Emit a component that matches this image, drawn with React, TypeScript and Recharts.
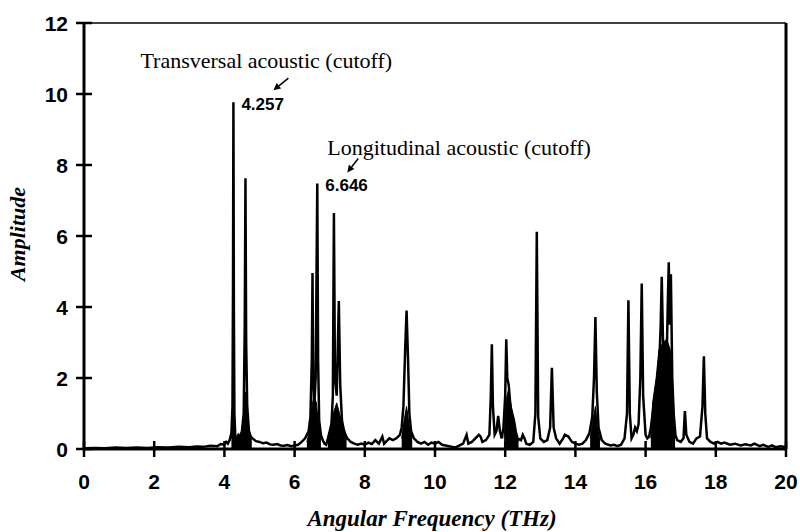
import React from 'react';
import { ComposedChart, Line, Area, XAxis, YAxis, ReferenceLine, ReferenceDot } from 'recharts';

// [frequency (THz), amplitude], split by band
const band0to4: [number, number][] = [
  [0, 0.02], [0.3, 0.03], [0.6, 0.02], [0.9, 0.04], [1.2, 0.03], [1.5, 0.04], [1.8, 0.03],
  [2.1, 0.05], [2.4, 0.04], [2.7, 0.06], [3.0, 0.05], [3.2, 0.07], [3.4, 0.06], [3.6, 0.09],
  [3.8, 0.08], [3.9, 0.14], [4.0, 0.12], [4.05, 0.2], [4.1, 0.15], [4.15, 0.25],
];
const band4to6: [number, number][] = [
  [4.2, 0.45], [4.23, 1.2], [4.245, 4.5], [4.257, 9.77], [4.27, 4.0], [4.285, 1.0], [4.31, 0.35],
  [4.35, 0.3], [4.4, 0.4], [4.45, 0.35], [4.5, 0.5], [4.55, 1.0], [4.58, 3.5], [4.6, 7.63],
  [4.62, 3.0], [4.65, 1.2], [4.7, 0.5], [4.75, 0.35], [4.8, 0.3], [4.9, 0.22], [5.0, 0.2],
  [5.1, 0.16], [5.2, 0.18], [5.3, 0.13], [5.4, 0.12], [5.5, 0.14], [5.6, 0.1], [5.7, 0.09],
  [5.8, 0.11], [5.9, 0.08],
];
const band6to8: [number, number][] = [
  [6.0, 0.1], [6.1, 0.12], [6.2, 0.2], [6.3, 0.3], [6.4, 0.5], [6.45, 0.9], [6.49, 2.5],
  [6.51, 4.96], [6.53, 2.0], [6.56, 1.2], [6.6, 2.0], [6.646, 7.48], [6.67, 2.5], [6.7, 0.8],
  [6.75, 0.4], [6.8, 0.25], [6.85, 0.15], [6.9, 0.12], [6.95, 0.3], [7.0, 0.5], [7.05, 0.7],
  [7.09, 1.5], [7.12, 6.65], [7.15, 2.0], [7.2, 1.5], [7.26, 4.17], [7.3, 1.8], [7.35, 0.8],
  [7.4, 0.55], [7.45, 0.4], [7.5, 0.3], [7.6, 0.2], [7.7, 0.15], [7.8, 0.12], [7.9, 0.15],
];
const band8to12: [number, number][] = [
  [8.0, 0.12], [8.1, 0.18], [8.2, 0.14], [8.3, 0.25], [8.4, 0.15], [8.5, 0.35], [8.55, 0.15],
  [8.6, 0.2], [8.7, 0.3], [8.8, 0.25], [8.9, 0.3], [9.0, 0.4], [9.05, 0.6], [9.1, 1.2],
  [9.15, 2.8], [9.19, 3.9], [9.23, 2.6], [9.27, 1.0], [9.32, 0.5], [9.4, 0.3], [9.5, 0.2],
  [9.6, 0.15], [9.7, 0.2], [9.8, 0.12], [9.9, 0.18], [10.0, 0.15], [10.1, 0.2], [10.2, 0.12],
  [10.3, 0.1], [10.4, 0.08], [10.5, 0.06], [10.6, 0.05], [10.7, 0.1], [10.8, 0.15], [10.9, 0.4],
  [10.95, 0.15], [11.05, 0.2], [11.15, 0.3], [11.25, 0.4], [11.3, 0.35], [11.35, 0.2],
  [11.45, 0.25], [11.55, 0.4], [11.59, 1.5], [11.62, 2.95], [11.65, 1.2], [11.7, 0.4],
  [11.75, 0.5], [11.8, 0.93], [11.85, 0.5], [11.9, 0.3], [11.95, 0.6],
];
const band12to16: [number, number][] = [
  [12.0, 1.5], [12.03, 3.09], [12.06, 2.0], [12.1, 1.8], [12.15, 1.2], [12.2, 1.0], [12.25, 0.8],
  [12.3, 0.5], [12.35, 0.3], [12.45, 0.25], [12.5, 0.4], [12.55, 0.3], [12.6, 0.15], [12.7, 0.12],
  [12.8, 0.2], [12.86, 1.0], [12.9, 6.12], [12.94, 0.9], [13.0, 0.3], [13.1, 0.2], [13.2, 0.25],
  [13.28, 0.6], [13.33, 2.29], [13.38, 0.6], [13.45, 0.3], [13.55, 0.15], [13.65, 0.3],
  [13.7, 0.4], [13.8, 0.35], [13.9, 0.2], [14.0, 0.15], [14.1, 0.12], [14.2, 0.15], [14.3, 0.25],
  [14.4, 0.45], [14.48, 0.9], [14.53, 2.0], [14.57, 3.72], [14.61, 1.6], [14.66, 0.6],
  [14.75, 0.25], [14.85, 0.15], [15.0, 0.1], [15.1, 0.12], [15.2, 0.08], [15.3, 0.12],
  [15.4, 0.3], [15.47, 1.0], [15.51, 4.19], [15.55, 1.0], [15.6, 0.3], [15.65, 0.4], [15.7, 0.6],
  [15.75, 0.5], [15.8, 0.7], [15.85, 2.0], [15.89, 4.66], [15.93, 1.5],
];
const band16to20: [number, number][] = [
  [16.0, 0.4], [16.05, 0.3], [16.1, 0.35], [16.15, 0.6], [16.2, 1.0], [16.25, 1.4], [16.3, 1.2],
  [16.35, 2.0], [16.4, 2.7], [16.43, 3.5], [16.46, 4.85], [16.5, 2.8], [16.55, 3.0], [16.6, 2.5],
  [16.63, 4.0], [16.66, 5.26], [16.69, 3.5], [16.72, 4.92], [16.76, 2.0], [16.8, 1.0],
  [16.85, 0.4], [16.9, 0.25], [17.0, 0.2], [17.08, 0.3], [17.12, 1.07], [17.16, 0.4],
  [17.25, 0.2], [17.35, 0.15], [17.45, 0.3], [17.55, 0.35], [17.62, 1.2], [17.66, 2.61],
  [17.7, 1.0], [17.75, 0.3], [17.85, 0.2], [17.95, 0.15], [18.05, 0.2], [18.15, 0.15],
  [18.25, 0.18], [18.4, 0.12], [18.55, 0.15], [18.7, 0.1], [18.85, 0.13], [19.0, 0.1],
  [19.1, 0.15], [19.25, 0.08], [19.35, 0.12], [19.5, 0.06], [19.6, 0.1], [19.7, 0.05],
  [19.85, 0.08], [20.0, 0.05],
];

// envelopes of the densely oscillating (solid black) regions at the peak bases
const denseTransverse: [number, number][] = [
  [4.2, 0.3], [4.24, 0.6], [4.257, 0.9], [4.28, 0.5], [4.32, 0.3], [4.45, 0.35], [4.52, 0.6],
  [4.56, 1.2], [4.6, 1.6], [4.64, 1.0], [4.7, 0.55], [4.78, 0.3],
];
const denseLongitudinal: [number, number][] = [
  [6.35, 0.2], [6.42, 0.5], [6.48, 1.1], [6.55, 1.5], [6.62, 1.3], [6.68, 0.7], [6.75, 0.25],
];
const dense7: [number, number][] = [
  [6.95, 0.2], [7.02, 0.6], [7.1, 1.0], [7.2, 1.3], [7.28, 1.0], [7.38, 0.6], [7.48, 0.25],
];
const dense9: [number, number][] = [[9.05, 0.3], [9.12, 0.8], [9.19, 1.2], [9.26, 0.7], [9.35, 0.3]];
const dense12: [number, number][] = [
  [11.97, 0.3], [12.03, 1.4], [12.1, 1.7], [12.2, 1.0], [12.3, 0.5], [12.38, 0.2],
];
const dense14: [number, number][] = [[14.42, 0.3], [14.5, 0.8], [14.57, 1.2], [14.63, 0.6], [14.7, 0.25]];
const dense16: [number, number][] = [
  [16.15, 0.3], [16.2, 1.3], [16.3, 2.0], [16.38, 2.8], [16.5, 3.0], [16.6, 3.1], [16.7, 2.8],
  [16.78, 1.6], [16.84, 0.3],
];

const xTicks = [0, 2, 4, 6, 8, 10, 12, 14, 16, 18, 20];
const yTicks = [0, 2, 4, 6, 8, 10, 12];

const transverseCutoff = { x: 4.257, y: 9.77, label: '4.257', name: 'Transversal acoustic (cutoff)' };
const longitudinalCutoff = { x: 6.646, y: 7.48, label: '6.646', name: 'Longitudinal acoustic (cutoff)' };

const toRows = (pts: [number, number][]) => pts.map(([x, y]) => ({ x, y }));
const data = toRows([...band0to4, ...band4to6, ...band6to8, ...band8to12, ...band12to16, ...band16to20]);
const denseRegions = [denseTransverse, denseLongitudinal, dense7, dense9, dense12, dense14, dense16].map(toRows);

const TICK_FONT = "'Liberation Sans', Arial, sans-serif";
const SERIF = "'Liberation Serif', 'Times New Roman', serif";

const XTick = (props: any) => {
  const { x, y, payload } = props;
  return (
    <g>
      <line x1={x} x2={x} y1={y - 8} y2={y + 8} stroke="#000" strokeWidth={2.5} />
      <text x={x} y={y + 40} textAnchor="middle" fontFamily={TICK_FONT} fontWeight="bold" fontSize={21} fill="#000">
        {payload.value}
      </text>
    </g>
  );
};

const YTick = (props: any) => {
  const { x, y, payload } = props;
  return (
    <g>
      <line x1={x - 8} x2={x + 8} y1={y} y2={y} stroke="#000" strokeWidth={2.5} />
      <text x={x - 16} y={y + 7.5} textAnchor="end" fontFamily={TICK_FONT} fontWeight="bold" fontSize={21} fill="#000">
        {payload.value}
      </text>
    </g>
  );
};

const makeAnnotation = (
  value: string,
  name: string,
  nameDx: number,
  nameDy: number,
  arrowFrom: [number, number],
  arrowTo: [number, number]
) => (props: any) => {
  const vb = props.viewBox || {};
  const cx = (vb.x || 0) + (vb.width || 0) / 2;
  const cy = (vb.y || 0) + (vb.height || 0) / 2;
  const fx = cx + arrowFrom[0];
  const fy = cy + arrowFrom[1];
  const tx = cx + arrowTo[0];
  const ty = cy + arrowTo[1];
  const ang = Math.atan2(ty - fy, tx - fx);
  const hl = 7;
  const hw = 3.5;
  const bx = tx - hl * Math.cos(ang);
  const by = ty - hl * Math.sin(ang);
  const px = -Math.sin(ang) * hw;
  const py = Math.cos(ang) * hw;
  return (
    <g>
      <text x={cx + 8} y={cy + 8} fontFamily={TICK_FONT} fontWeight="bold" fontSize={17} fill="#000">
        {value}
      </text>
      <text x={cx + nameDx} y={cy + nameDy} fontFamily={SERIF} fontSize={22} fill="#000">
        {name}
      </text>
      <line x1={fx} y1={fy} x2={bx} y2={by} stroke="#000" strokeWidth={1.5} />
      <polygon points={`${tx},${ty} ${bx + px},${by + py} ${bx - px},${by - py}`} fill="#000" />
    </g>
  );
};

export default function App() {
  return (
    <div style={{ position: 'absolute', left: 0, top: 0, background: '#fff' }}>
      <ComposedChart width={800} height={532} data={data} margin={{ top: 23, right: 14, bottom: 0, left: 0 }}>
        <XAxis
          type="number"
          dataKey="x"
          domain={[0, 20]}
          ticks={xTicks}
          interval={0}
          height={83}
          tickSize={0}
          tickMargin={0}
          tickLine={false}
          axisLine={{ stroke: '#000', strokeWidth: 3 }}
          tick={<XTick />}
          label={() => (
            <text
              x={432}
              y={526}
              textAnchor="middle"
              fontFamily={SERIF}
              fontWeight="bold"
              fontStyle="italic"
              fontSize={23}
              fill="#000"
            >
              Angular Frequency (THz)
            </text>
          )}
        />
        <YAxis
          type="number"
          domain={[0, 12]}
          ticks={yTicks}
          interval={0}
          width={84}
          tickSize={0}
          tickMargin={0}
          tickLine={false}
          axisLine={{ stroke: '#000', strokeWidth: 3 }}
          tick={<YTick />}
          label={() => (
            <text
              x={25}
              y={234}
              transform="rotate(-90 25 234)"
              textAnchor="middle"
              fontFamily={SERIF}
              fontWeight="bold"
              fontStyle="italic"
              fontSize={22}
              fill="#000"
            >
              Amplitude
            </text>
          )}
        />
        <ReferenceLine y={12} stroke="#000" strokeWidth={1.5} />
        <ReferenceLine x={20} stroke="#000" strokeWidth={3} />
        {denseRegions.map((seg, i) => (
          <Area
            key={i}
            data={seg}
            type="linear"
            dataKey="y"
            stroke="#000"
            strokeWidth={1}
            fill="#000"
            fillOpacity={1}
            dot={false}
            activeDot={false}
            isAnimationActive={false}
          />
        ))}
        <Line
          type="linear"
          dataKey="y"
          stroke="#000"
          strokeWidth={2.5}
          dot={false}
          isAnimationActive={false}
        />
        <ReferenceDot
          x={transverseCutoff.x}
          y={transverseCutoff.y}
          r={0}
          fill="none"
          stroke="none"
          label={makeAnnotation(transverseCutoff.label, transverseCutoff.name, -93, -34, [55, -24], [40, -12])}
        />
        <ReferenceDot
          x={longitudinalCutoff.x}
          y={longitudinalCutoff.y}
          r={0}
          fill="none"
          stroke="none"
          label={makeAnnotation(longitudinalCutoff.label, longitudinalCutoff.name, 10, -28, [41, -25], [30, -11])}
        />
      </ComposedChart>
    </div>
  );
}
